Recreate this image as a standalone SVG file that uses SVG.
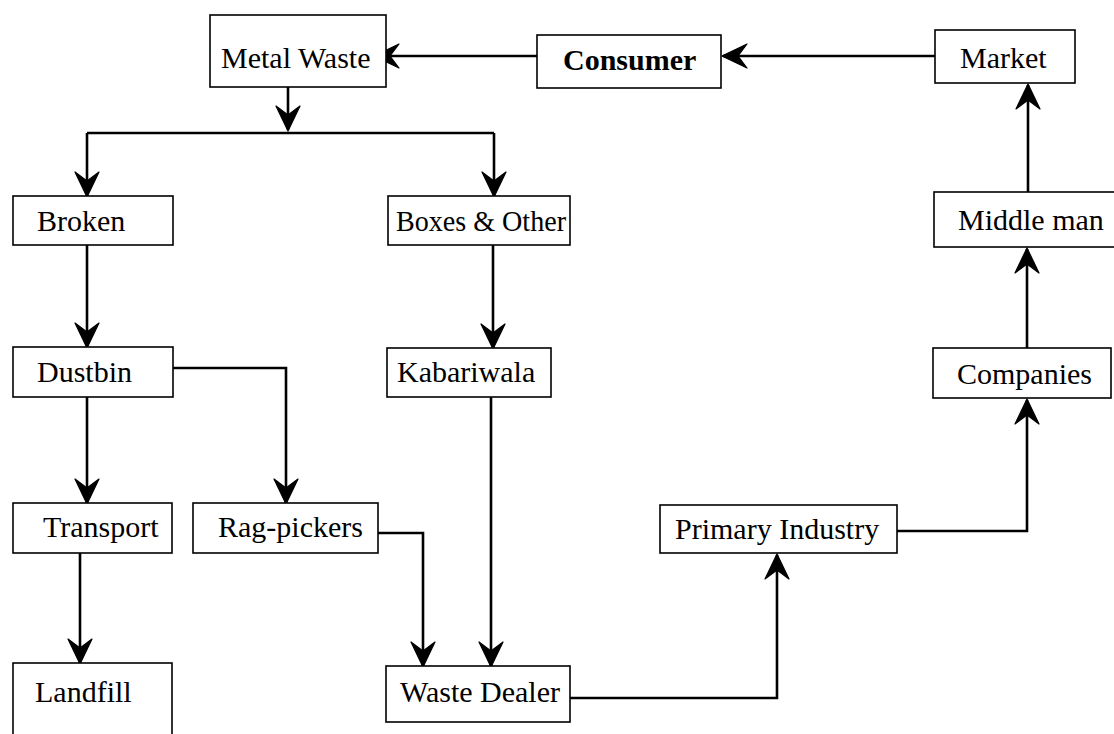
<svg xmlns="http://www.w3.org/2000/svg" width="1114" height="734" viewBox="0 0 1114 734">
  <style>
    .box { fill: #fff; stroke: #000; stroke-width: 1.6; }
    .lbl { font-family: "Liberation Serif", "Times New Roman", serif; font-size: 30px; fill: #000; }
    .bold { font-weight: bold; }
    .wire { fill: none; stroke: #000; stroke-width: 2.6; marker-end: url(#barb); }
    .bus { fill: none; stroke: #000; stroke-width: 2.6; }
  </style>
  <defs>
    <!-- barbed arrowhead with a concave back, tip at the path end -->
    <marker id="barb" markerUnits="userSpaceOnUse" viewBox="-27 -15 30 30" refX="0" refY="0" markerWidth="30" markerHeight="30" orient="auto">
      <path d="M1,0 L-24,-12 Q-18,-4 -15,0 Q-18,4 -24,12 Z" fill="#000" stroke="#000" stroke-width="1.2" stroke-linejoin="round"/>
    </marker>
  </defs>
  <rect width="1114" height="734" fill="#fff"/>

  <g id="connectors">
    <path class="wire" d="M537,56 H375"/>
    <path class="wire" d="M935,56 H723"/>
    <path class="wire" d="M1028,192 V85"/>
    <path class="wire" d="M1027,348 V249"/>
    <path class="wire" d="M897,531 H1027 V400"/>
    <path class="wire" d="M570,698 H777 V555"/>
    <path class="wire" d="M288,87 V130"/>
    <path class="bus" d="M87,133 H494"/>
    <path class="wire" d="M87,133 V196"/>
    <path class="wire" d="M494,133 V196"/>
    <path class="wire" d="M87,245 V347"/>
    <path class="wire" d="M493,245 V348"/>
    <path class="wire" d="M87,397 V503"/>
    <path class="wire" d="M173,368 H286 V503"/>
    <path class="wire" d="M491,397 V666"/>
    <path class="wire" d="M378,533 H423 V666"/>
    <path class="wire" d="M80,553 V663"/>
  </g>

  <g id="metal-waste">
    <rect class="box" x="210" y="15" width="176" height="72"/>
    <text class="lbl" x="221" y="68">Metal Waste</text>
  </g>
  <g id="consumer">
    <rect class="box" x="537" y="35" width="184" height="53"/>
    <text class="lbl bold" x="563" y="70">Consumer</text>
  </g>
  <g id="market">
    <rect class="box" x="935" y="30" width="140" height="53"/>
    <text class="lbl" x="960" y="68">Market</text>
  </g>
  <g id="middle-man">
    <rect class="box" x="934" y="192" width="190" height="55"/>
    <text class="lbl" x="958" y="230">Middle man</text>
  </g>
  <g id="companies">
    <rect class="box" x="933" y="348" width="178" height="50"/>
    <text class="lbl" x="957" y="384">Companies</text>
  </g>
  <g id="primary-industry">
    <rect class="box" x="660" y="505" width="237" height="48"/>
    <text class="lbl" x="675" y="539">Primary Industry</text>
  </g>
  <g id="broken">
    <rect class="box" x="13" y="196" width="160" height="49"/>
    <text class="lbl" x="37" y="231">Broken</text>
  </g>
  <g id="boxes-other">
    <rect class="box" x="388" y="196" width="182" height="49"/>
    <text class="lbl" x="396" y="231" textLength="170" lengthAdjust="spacingAndGlyphs">Boxes &amp; Other</text>
  </g>
  <g id="dustbin">
    <rect class="box" x="13" y="347" width="160" height="50"/>
    <text class="lbl" x="37" y="382">Dustbin</text>
  </g>
  <g id="kabariwala">
    <rect class="box" x="387" y="348" width="164" height="49"/>
    <text class="lbl" x="397" y="382">Kabariwala</text>
  </g>
  <g id="transport">
    <rect class="box" x="13" y="503" width="159" height="50"/>
    <text class="lbl" x="43" y="537">Transport</text>
  </g>
  <g id="rag-pickers">
    <rect class="box" x="193" y="503" width="185" height="50"/>
    <text class="lbl" x="218" y="537">Rag-pickers</text>
  </g>
  <g id="landfill">
    <rect class="box" x="13" y="663" width="159" height="90"/>
    <text class="lbl" x="35" y="702">Landfill</text>
  </g>
  <g id="waste-dealer">
    <rect class="box" x="386" y="666" width="184" height="56"/>
    <text class="lbl" x="400" y="702">Waste Dealer</text>
  </g>
</svg>
